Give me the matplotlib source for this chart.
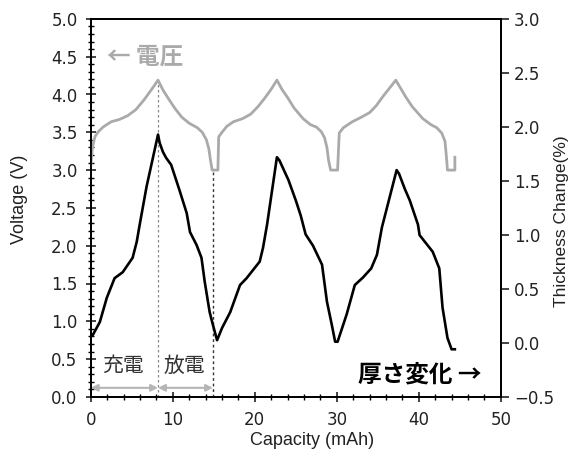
import matplotlib
matplotlib.use("Agg")
import matplotlib.pyplot as plt
from matplotlib.ticker import MultipleLocator

plt.rcParams['font.family'] = ['Noto Sans CJK JP', 'DejaVu Sans']

# voltage curve (left axis, V)
volt_x = [0.0, 0.2, 0.5, 0.85, 1.5, 2.5, 3.5, 4.5, 5.5, 6.5, 7.5, 8.2,
          8.8, 9.5, 10.3, 11.1, 12.0, 13.0, 13.6, 14.1, 14.4, 14.6, 14.8, 15.5,
          15.6, 16.0, 16.6, 17.4, 18.5, 19.5, 20.4, 21.2, 22.0, 22.7,
          23.3, 24.0, 24.8, 25.9, 26.8, 27.5, 28.1, 28.5, 28.8, 29.0, 29.25, 30.1,
          30.3, 30.8, 31.9, 33.0, 34.0, 34.8, 35.6, 36.4, 37.2,
          37.8, 38.4, 39.2, 40.5, 41.5, 42.2, 42.8, 43.2, 43.35, 43.5, 44.4, 44.4]
volt_y = [3.05, 3.3, 3.44, 3.5, 3.57, 3.64, 3.67, 3.72, 3.8, 3.93, 4.08, 4.19,
          4.06, 3.94, 3.81, 3.7, 3.62, 3.56, 3.5, 3.4, 3.28, 3.13, 3.0, 3.0,
          3.44, 3.5, 3.58, 3.64, 3.68, 3.74, 3.84, 3.95, 4.07, 4.19,
          4.07, 3.96, 3.82, 3.68, 3.6, 3.57, 3.51, 3.43, 3.3, 3.13, 3.0, 3.0,
          3.49, 3.56, 3.64, 3.7, 3.76, 3.85, 3.97, 4.08, 4.19,
          4.08, 3.97, 3.84, 3.68, 3.6, 3.56, 3.49, 3.38, 3.2, 3.0, 3.0, 3.17]

# thickness change (right axis, %)
thick_x = [0.0, 0.25, 1.1, 1.95, 2.9, 3.9, 5.1, 5.6, 6.0, 6.8, 8.2,
           8.4, 8.8, 9.2, 9.8, 10.8, 11.7, 12.1, 12.9, 13.5, 13.9, 14.5, 14.9, 15.4,
           16.0, 17.0, 18.2, 19.0, 19.8, 20.6, 21.0, 21.5, 22.7,
           23.0, 24.1, 25.0, 25.6, 26.2, 27.1, 28.2, 28.8, 29.4, 29.8, 30.1,
           31.2, 32.2, 33.2, 34.2, 34.9, 35.5, 37.3,
           37.6, 38.3, 38.9, 39.9, 40.1, 41.7, 42.5, 42.9, 43.5, 44.0, 44.4]
thick_y = [0.06, 0.074, 0.193, 0.417, 0.599, 0.655, 0.788, 0.935, 1.11, 1.446, 1.929,
           1.852, 1.768, 1.712, 1.649, 1.418, 1.201, 1.026, 0.907, 0.788, 0.564, 0.284, 0.165, 0.025,
           0.137, 0.284, 0.536, 0.599, 0.676, 0.753, 0.879, 1.096, 1.719,
           1.691, 1.509, 1.32, 1.18, 1.005, 0.9, 0.725, 0.382, 0.165, 0.011, 0.011,
           0.263, 0.536, 0.606, 0.69, 0.816, 1.068, 1.6,
           1.565, 1.425, 1.32, 1.096, 0.998, 0.844, 0.69, 0.326, 0.046, -0.059, -0.059]

charge_end = 8.2
discharge_end = 14.9

fig = plt.figure(figsize=(5.71, 4.5), dpi=100)
ax = fig.add_axes([0.159, 0.118, 0.718, 0.840])
ax2 = ax.twinx()

ax.plot(volt_x, volt_y, color='#aaaaaa', lw=2.0, zorder=3)
ax2.plot(thick_x, thick_y, color='black', lw=1.9, zorder=3)

# dotted guide lines
ax.plot([charge_end, charge_end], [0, 4.19], color='#888888', lw=0.9, ls=(0, (2, 2)))
ax.plot([discharge_end, discharge_end], [0, 3.0], color='#333333', lw=1.0, ls=(0, (2, 2)))

# charge / discharge arrows
arr = dict(arrowstyle='<|-|>', color='#b5b5b5', lw=1.5, mutation_scale=10, shrinkA=0, shrinkB=0)
ax.annotate('', xy=(0, 0.12), xytext=(charge_end, 0.12), arrowprops=arr)
ax.annotate('', xy=(charge_end, 0.12), xytext=(discharge_end, 0.12), arrowprops=arr)
ax.text(3.9, 0.41, '充電', fontsize=15, color='#333333', ha='center', va='center')
ax.text(11.4, 0.41, '放電', fontsize=15, color='#333333', ha='center', va='center')

ax.text(2.0, 4.5, '← 電圧', fontsize=17, color='#aaaaaa', fontweight='bold', ha='left', va='center')
ax.text(47.6, 0.29, '厚さ変化 →', fontsize=17, color='black', fontweight='bold', ha='right', va='center')

ax.set_xlim(0, 50)
ax.set_ylim(0, 5)
ax2.set_ylim(-0.5, 3.0)

ax.xaxis.set_major_locator(MultipleLocator(10))
ax.xaxis.set_minor_locator(MultipleLocator(2))
ax.yaxis.set_major_locator(MultipleLocator(0.5))
ax.yaxis.set_minor_locator(MultipleLocator(0.1))
ax2.yaxis.set_major_locator(MultipleLocator(0.5))

ax.yaxis.set_major_formatter(matplotlib.ticker.FormatStrFormatter('%.1f'))
ax2.yaxis.set_major_formatter(matplotlib.ticker.FuncFormatter(lambda v, p: ('%.1f' % v).replace('-', '\u2212')))

ax.tick_params(axis='both', which='major', direction='inout', length=7, width=1.2, labelsize=12, colors='#222222')
ax.tick_params(axis='both', which='minor', direction='inout', length=4, width=1.0)
ax.tick_params(axis='x', which='major', pad=7)
ax.tick_params(axis='y', which='major', pad=6)
ax.tick_params(axis='x', which='both', top=False)
ax2.tick_params(axis='y', which='major', direction='out', length=6, width=1.2, labelsize=12, colors='#222222')
for lab in ax.get_xticklabels() + ax.get_yticklabels() + ax2.get_yticklabels():
    lab.set_family('DejaVu Sans')

for a in (ax, ax2):
    for s in a.spines.values():
        s.set_linewidth(1.3)

# axis titles
fig.text(0.547, 0.022, 'Capacity (mAh)', fontsize=13, family='Liberation Sans',
         color='#222222', ha='center', va='center')
fig.text(0.035, 0.556, 'Voltage (V)', fontsize=13, family='Liberation Sans',
         color='#222222', ha='center', va='center', rotation=90)
fig.text(0.983, 0.509, 'Thickness Change(%)', fontsize=12.5, family='Liberation Sans',
         color='#222222', ha='center', va='center', rotation=90)

fig.savefig('out.png', dpi=100)
